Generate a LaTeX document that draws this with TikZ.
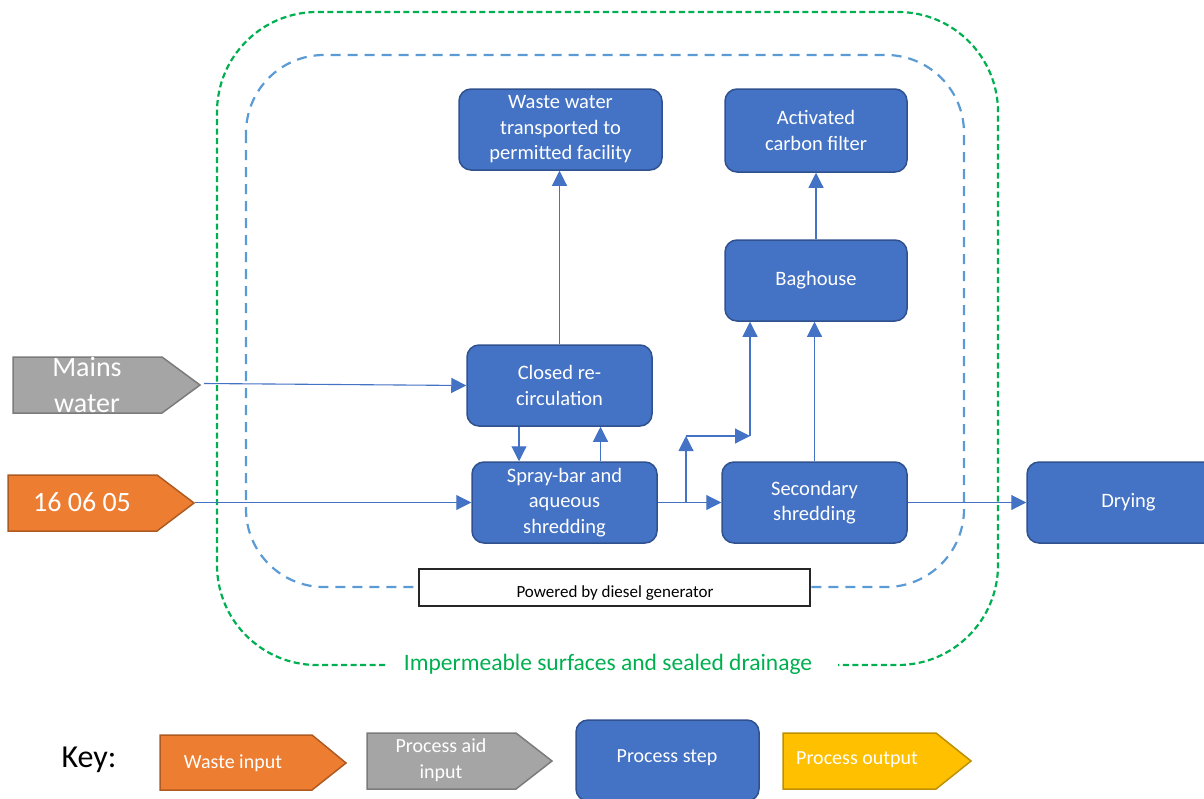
\documentclass[tikz,border=0pt]{standalone}
\usepackage{fontspec}
\setmainfont{Carlito}
\usetikzlibrary{arrows.meta,calc}

\definecolor{stepfill}{HTML}{4472C4}
\definecolor{stepline}{HTML}{2F528F}
\definecolor{wastefill}{HTML}{ED7D31}
\definecolor{wasteline}{HTML}{AE5A21}
\definecolor{aidfill}{HTML}{A5A5A5}
\definecolor{aidline}{HTML}{7B7B7B}
\definecolor{outfill}{HTML}{FFC000}
\definecolor{outline}{HTML}{BF9000}
\definecolor{sitegreen}{HTML}{00B050}
\definecolor{zoneblue}{HTML}{5B9BD5}

\tikzset{
  stepbox/.style={draw=stepline, line width=1.5pt, fill=stepfill, rounded corners=12pt,
    text=white, align=center, inner sep=0pt, font=\fontsize{20.5}{25.5}\selectfont},
  flow/.style={draw=stepfill, line width=1.1pt, -{Triangle[length=15pt,width=15pt]}},
  tag/.style={text=white, align=center, inner sep=0pt},
}

\begin{document}
\begin{tikzpicture}[x=1pt,y=-1pt]
\useasboundingbox (0,0) rectangle (1204,798);
\clip (0,0) rectangle (1204,798);

% site boundary: impermeable surfaces (open at the bottom for its caption)
\draw[sitegreen, line width=2.2pt, dash pattern=on 6pt off 3.5pt, rounded corners=100pt]
  (385,665) -| (217,12) -| (998,665) -- (838,665);
\node[text=sitegreen, font=\fontsize{23.5}{27}\selectfont] (sitelabel) at (608,664) {Impermeable surfaces and sealed drainage};

% generator powered zone
\draw[zoneblue, line width=2.2pt, dash pattern=on 10pt off 7pt, rounded corners=78pt]
  (246,55) rectangle (964,587);

% generator box (its text is cut by the box edge)
\draw[black!85, line width=1.4pt, fill=white] (419,569) rectangle (810,606);
\begin{scope}
  \clip (420,570) rectangle (809,600.5);
  \node[anchor=base, inner sep=0pt, font=\fontsize{17}{20}\selectfont] (gen) at (615,597.5) {Powered by diesel generator};
\end{scope}

% process steps
\node[stepbox, minimum width=203pt, minimum height=81pt] (ww) at (560.5,129.5)
  {Waste water\\transported to\\permitted facility};
\node[stepbox, minimum width=182pt, minimum height=83pt] (acf) at (816,130.5)
  {Activated\\carbon filter};
\node[stepbox, minimum width=182pt, minimum height=81pt] (bag) at (816,280.5) {Baghouse};
\node[stepbox, minimum width=185pt, minimum height=81pt] (crc) at (559.5,385.5)
  {Closed re-\\circulation};
\node[stepbox, minimum width=185pt, minimum height=81pt] (spray) at (564.5,502.5)
  {Spray-bar and\\aqueous\\shredding};
\node[stepbox, minimum width=185pt, minimum height=81pt] (sec) at (814.5,502.5)
  {Secondary\\shredding};
\node[stepbox, minimum width=203pt, minimum height=81pt] (dry) at (1128.5,502.5) {Drying};

% inputs
\filldraw[fill=aidfill, draw=aidline, line width=1.5pt]
  (13,357) -- (162,357) -- (200,385) -- (162,413) -- (13,413) -- cycle;
\coordinate (mainsTip) at (204,383.5);
\node[tag, font=\fontsize{28}{36}\selectfont] (mains) at (87,385) {Mains\\water};

\filldraw[fill=wastefill, draw=wasteline, line width=1.5pt]
  (8,475) -- (157,475) -- (194,503) -- (157,531) -- (8,531) -- cycle;
\coordinate (wasteTip) at (195,502.5);
\node[tag, font=\fontsize{28}{34}\selectfont] (waste) at (82,502) {16 06 05};

% connectors
\draw[flow] (mainsTip) -- (crc.west);
\draw[flow] (wasteTip) -- (spray.west);
\draw[flow] ([xshift=-40.5pt]crc.south) -- ([xshift=-45.5pt]spray.north);
\draw[flow] ([xshift=36pt]spray.north) -- ([xshift=41pt]crc.south);
\draw[flow] (crc.north) -- (crc.north |- ww.south);
\draw[flow] (spray.east) -- (sec.west);
\coordinate (split) at (686,502.5);
\coordinate (branchTop) at (686,436);
\coordinate (branchEnd) at (750,436);
\draw[flow] (split) -- (branchTop);
\draw[flow] (branchTop) -- (branchEnd);
\draw[flow] (branchEnd) -- ([xshift=-66pt]bag.south);
\draw[flow] (sec.north) -- (sec.north |- bag.south);
\draw[flow] (bag.north) -- (acf.south);
\draw[flow] (sec.east) -- (dry.west);

% key
\node[font=\fontsize{32}{36}\selectfont, inner sep=0pt] (key) at (89,760) {Key:};

\filldraw[fill=wastefill, draw=wasteline, line width=1.5pt]
  (160,735) -- (312,735) -- (346,763) -- (312,790) -- (160,790) -- cycle;
\node[tag, font=\fontsize{20}{24}\selectfont] (keywaste) at (233,763) {Waste input};

\filldraw[fill=aidfill, draw=aidline, line width=1.5pt]
  (367,733) -- (516,733) -- (552,761) -- (516,789) -- (367,789) -- cycle;
\node[tag, font=\fontsize{20}{26}\selectfont] (keyaid) at (441,760) {Process aid\\input};

\node[stepbox, minimum width=183pt, minimum height=81pt]
  (keystep) at (667.5,760.5) {};
\node[tag, font=\fontsize{20}{24}\selectfont] (keysteptext) at (667,758) {Process step};

\filldraw[fill=outfill, draw=outline, line width=1.5pt]
  (783,733) -- (936,733) -- (971,761) -- (936,789) -- (783,789) -- cycle;
\node[tag, font=\fontsize{20}{24}\selectfont] (keyout) at (857,760) {Process output};
\end{tikzpicture}
\end{document}
